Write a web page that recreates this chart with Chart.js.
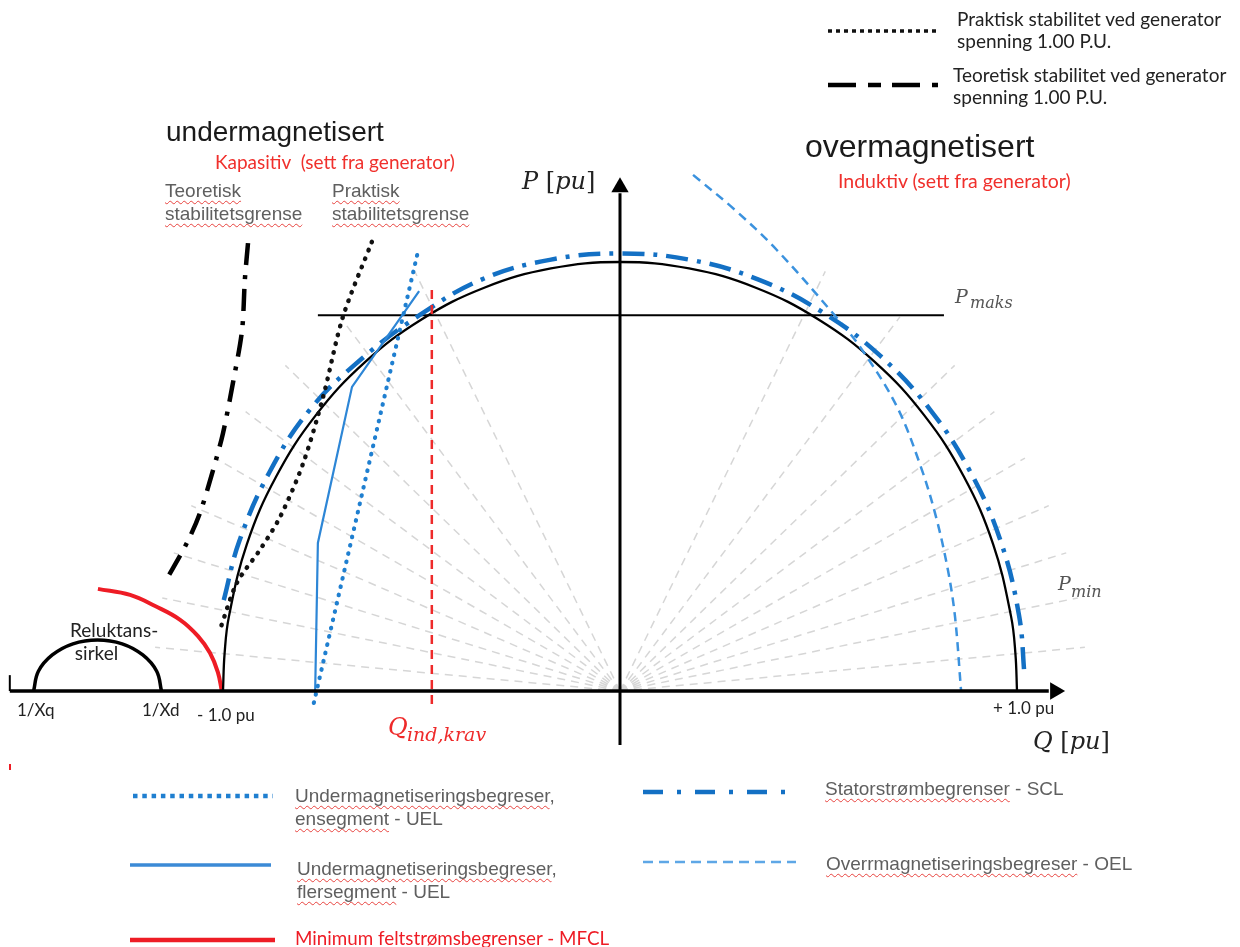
<!DOCTYPE html>
<html><head><meta charset="utf-8">
<script src="https://cdn.jsdelivr.net/npm/chart.js@4.4.1/dist/chart.umd.min.js"></script>
<style>
html,body{margin:0;padding:0;background:#fff;}
#wrap{position:relative;width:1240px;height:947px;overflow:hidden;background:#fff;}
#c{position:absolute;left:0;top:0;}
#keys{position:absolute;left:0;top:0;}
.lbl{position:absolute;white-space:nowrap;}
.sp{text-decoration-line:underline;text-decoration-style:wavy;text-decoration-color:#e8433f;text-decoration-thickness:1px;text-underline-offset:3px;text-decoration-skip-ink:none;}
</style></head>
<body>
<div id="wrap">
<canvas id="c" width="1240" height="947"></canvas>
<svg id="keys" width="1240" height="947" xmlns="http://www.w3.org/2000/svg">
  <line x1="828" y1="31" x2="938" y2="31" stroke="#111" stroke-width="3.5" stroke-dasharray="4 4"/>
  <line x1="828" y1="85" x2="938" y2="85" stroke="#000" stroke-width="4.5" stroke-dasharray="28 12 13 11"/>
  <line x1="133" y1="796" x2="273" y2="796" stroke="#1f7fd0" stroke-width="4.5" stroke-dasharray="4.5 4.8"/>
  <line x1="130" y1="865" x2="271" y2="865" stroke="#3b8ad6" stroke-width="3.5"/>
  <line x1="130" y1="940" x2="275" y2="940" stroke="#ee1c25" stroke-width="4.5"/>
  <line x1="643" y1="792" x2="790" y2="792" stroke="#1370c4" stroke-width="4.5" stroke-dasharray="20 14 4 14"/>
  <line x1="643" y1="862" x2="796" y2="862" stroke="#5ea7e6" stroke-width="2.5" stroke-dasharray="10 6"/>
  <line x1="10" y1="764" x2="10" y2="770" stroke="#ee1c25" stroke-width="2"/>
</svg>
</div>
<script>
// ---------- data (Q and P in per unit) ----------
const circleQ = [-1, -0.996, -0.985, -0.940, -0.866, -0.766, -0.643, -0.5, -0.342, -0.174, 0, 0.174, 0.342, 0.5, 0.643, 0.766, 0.866, 0.940, 0.985, 0.996, 1];
const circleP = [0, 0.087, 0.174, 0.342, 0.5, 0.643, 0.766, 0.866, 0.940, 0.985, 1, 0.985, 0.940, 0.866, 0.766, 0.643, 0.5, 0.342, 0.174, 0.087, 0];

const sclQ = [-0.998, -0.959, -0.883, -0.781, -0.650, -0.505, -0.349, -0.177, 0, 0.177, 0.349, 0.510, 0.656, 0.781, 0.883, 0.959, 1.005, 1.019];
const sclP = [0.212, 0.349, 0.510, 0.656, 0.775, 0.876, 0.959, 1.005, 1.02, 1.005, 0.959, 0.883, 0.781, 0.656, 0.510, 0.349, 0.177, 0.036];

const oelQ = [0.184, 0.290, 0.395, 0.544, 0.610, 0.698, 0.758, 0.796, 0.826, 0.844, 0.859];
const oelP = [1.203, 1.121, 1.028, 0.872, 0.795, 0.662, 0.522, 0.406, 0.282, 0.172, 0.002];

const uelSingleQ = [-0.511, -0.773];
const uelSingleP = [1.016, -0.035];

const uelMultiQ = [-0.506, -0.675, -0.761, -0.768];
const uelMultiP = [0.932, 0.709, 0.345, -0.009];

const practQ = [-0.625, -0.698, -0.748, -0.798, -0.856, -0.907, -0.965, -1.008];
const practP = [1.047, 0.872, 0.685, 0.531, 0.406, 0.329, 0.252, 0.142];

const theorQ = [-0.937, -0.945, -0.952, -0.975, -1.000, -1.025, -1.058, -1.091, -1.146];
const theorP = [1.044, 0.958, 0.841, 0.718, 0.601, 0.515, 0.415, 0.345, 0.254];

const qIndQ = [-0.474, -0.474];
const qIndP = [0.935, -0.044];

const mfclQ = [-1.315, -1.234, -1.171, -1.108, -1.063, -1.033, -1.013, -1.003];
const mfclP = [0.238, 0.224, 0.198, 0.166, 0.128, 0.089, 0.044, 0];

const relQ = [-1.155, -1.167, -1.202, -1.254, -1.316, -1.378, -1.430, -1.465, -1.477];
const relP = [0, 0.046, 0.084, 0.110, 0.119, 0.110, 0.084, 0.046, 0];

const pMaksQ = [-0.761, 0.816];
const pMaksP = [0.876, 0.876];

const qAxisQ = [-1.537, 1.08];
const qAxisP = [0, 0];
const pAxisQ = [0, 0];
const pAxisP = [-0.126, 1.16];
const tickQ = [-1.537, -1.537];
const tickP = [0, 0.037];
const arrowQ = [1.096, 0];
const arrowP = [0, 1.174];
const arrowRot = [90, 0];

const spokeRightQ = [1.171, 1.153, 1.124, 1.080, 1.020, 0.943, 0.843, 0.705, 0.517];
const spokeRightP = [0.102, 0.217, 0.322, 0.432, 0.543, 0.651, 0.759, 0.872, 0.978];
const spokeLeftQ = [-1.171, -1.153, -1.124, -1.080, -1.020, -0.943, -0.843, -0.705, -0.517];
const spokeLeftP = [0.102, 0.217, 0.322, 0.432, 0.543, 0.651, 0.759, 0.872, 0.978];

// ---------- build ----------
const pts = (qs, ps) => qs.map((q, i) => ({x: q, y: ps[i]}));
const spokePts = [];
[[spokeRightQ, spokeRightP], [spokeLeftQ, spokeLeftP]].forEach(([qs, ps]) => {
  qs.forEach((q, i) => { spokePts.push({x: 0, y: 0}, {x: q, y: ps[i]}, {x: null, y: null}); });
});

function line(data, color, width, dash, tension, cap) {
  return {data, showLine: true, borderColor: color, borderWidth: width, borderDash: dash || [],
    borderCapStyle: cap || 'butt',
    tension: tension || 0, pointRadius: 0, pointHoverRadius: 0, fill: false, spanGaps: false};
}

const datasets = [
  {data: pts(arrowQ, arrowP), showLine: false, pointStyle: 'triangle', rotation: arrowRot, pointRadius: 10,
   pointHoverRadius: 10, backgroundColor: '#000', borderColor: '#000', borderWidth: 0},
  line(pts(qAxisQ, qAxisP), '#000', 3.5),
  line(pts(pAxisQ, pAxisP), '#000', 3),
  line(pts(tickQ, tickP), '#000', 2),
  line(pts(qIndQ, qIndP), '#ee2a2a', 2.5, [9, 6]),
  line(pts(theorQ, theorP), '#000', 4.5, [22, 10, 4, 10], 0.3),
  line(pts(practQ, practP), '#111', 4.5, [0.5, 8.5], 0.3, 'round'),
  line(pts(uelSingleQ, uelSingleP), '#1f7fd0', 4.2, [0.5, 8], 0, 'round'),
  line(pts(uelMultiQ, uelMultiP), '#2d86d6', 2.2),
  line(pts(sclQ, sclP), '#1370c4', 4.5, [22, 9, 4, 9], 0.4),
  line(pts(oelQ, oelP), '#3b92de', 2.5, [9, 6], 0.35),
  line(pts(circleQ, circleP), '#000', 2.3, [], 0.4),
  line(pts(pMaksQ, pMaksP), '#000', 2),
  line(pts(mfclQ, mfclP), '#ee1c25', 4, [], 0.4),
  line(pts(relQ, relP), '#000', 3.5, [], 0.4),
  line(spokePts, '#d6d6d6', 1.5, [8, 6]),
];

new Chart(document.getElementById('c'), {
  type: 'scatter',
  data: {datasets},
  options: {
    responsive: false, animation: false, events: [],
    layout: {padding: 0, autoPadding: false},
    scales: {
      x: {type: 'linear', min: -1.5617, max: 1.5617, display: false},
      y: {type: 'linear', min: -0.5967, max: 1.6107, display: false}
    },
    plugins: {legend: {display: false}, tooltip: {enabled: false}}
  }
});

// ---------- text labels ----------
const FONTS = {
  arial: {fam: '"Liberation Sans", Arial, sans-serif', c: 0.3465},
  lato: {fam: 'Lato, "Noto Sans", sans-serif', c: 0.387},
  serif: {fam: '"DejaVu Serif", serif', c: 0.346}
};
const labels = [
  {h: 'undermagnetisert', x: 166, b: 142, f: 'arial', s: 28, col: '#1a1a1a'},
  {h: 'overmagnetisert', x: 805, b: 157, f: 'arial', s: 32, col: '#1a1a1a'},
  {h: 'Kapasitiv&nbsp;&nbsp;(sett fra generator)', x: 215, b: 169, f: 'lato', s: 19, col: '#f0302c'},
  {h: 'Induktiv (sett fra generator)', x: 838, b: 188, f: 'lato', s: 19.5, col: '#f0302c'},
  {h: '<span class="sp">Teoretisk</span><br><span class="sp">stabilitetsgrense</span>', x: 165, b: 197, lh: 23, f: 'arial', s: 19, col: '#5f5f5f'},
  {h: '<span class="sp">Praktisk</span><br><span class="sp">stabilitetsgrense</span>', x: 332, b: 197, lh: 23, f: 'arial', s: 19, col: '#5f5f5f'},
  {h: 'Praktisk stabilitet ved generator<br>spenning 1.00 P.U.', x: 957, b: 26, lh: 22, f: 'lato', s: 19, col: '#222'},
  {h: 'Teoretisk stabilitet ved generator<br>spenning 1.00 P.U.', x: 953, b: 82, lh: 22, f: 'lato', s: 19, col: '#222'},
  {h: 'Reluktans-<br>&nbsp;sirkel', x: 70, b: 637, lh: 23, f: 'lato', s: 19, col: '#222'},
  {h: '1/Xq', x: 17, b: 717, f: 'lato', s: 17, col: '#222'},
  {h: '1/Xd', x: 142, b: 717, f: 'lato', s: 17, col: '#222'},
  {h: '- 1.0 pu', x: 197, b: 722, f: 'lato', s: 17, col: '#222'},
  {h: '+ 1.0 pu', x: 993, b: 715, f: 'lato', s: 17, col: '#222'},
  {h: '<span class="sp">Undermagnetiseringsbegreser</span>,<br><span class="sp">ensegment</span> - UEL', x: 295, b: 802, lh: 23, f: 'arial', s: 19, col: '#5f5f5f'},
  {h: '<span class="sp">Undermagnetiseringsbegreser</span>,<br><span class="sp">flersegment</span> - UEL', x: 297, b: 875, lh: 23, f: 'arial', s: 19, col: '#5f5f5f'},
  {h: 'Minimum feltstrømsbegrenser - MFCL', x: 295, b: 945, f: 'lato', s: 18.8, col: '#ee1c25'},
  {h: '<span class="sp">Statorstrømbegrenser</span> - SCL', x: 825, b: 795, f: 'arial', s: 19, col: '#5f5f5f'},
  {h: '<span class="sp">Overrmagnetiseringsbegreser</span> - OEL', x: 826, b: 870, f: 'arial', s: 19, col: '#5f5f5f'},
  {h: '<i>P</i> [<i>pu</i>]', x: 522, b: 190, f: 'serif', s: 24, col: '#222'},
  {h: '<i>Q</i> [<i>pu</i>]', x: 1033, b: 750, f: 'serif', s: 24, col: '#222'},
  {h: '<i>P</i>', x: 955, b: 303, f: 'serif', s: 19, col: '#555'},
  {h: '<i>maks</i>', x: 970, b: 308, f: 'serif', s: 16, col: '#555'},
  {h: '<i>P</i>', x: 1058, b: 590, f: 'serif', s: 19, col: '#555'},
  {h: '<i>min</i>', x: 1071, b: 597, f: 'serif', s: 16, col: '#555'},
  {h: '<i>Q</i>', x: 388, b: 736, f: 'serif', s: 24, col: '#ee2a2a'},
  {h: '<i>ind,krav</i>', x: 407, b: 741, f: 'serif', s: 19, col: '#ee2a2a'}
];
const wrap = document.getElementById('wrap');
labels.forEach(l => {
  const F = FONTS[l.f];
  const lh = l.lh || Math.round(l.s * 1.2);
  const d = document.createElement('div');
  d.className = 'lbl';
  d.innerHTML = l.h;
  d.style.fontFamily = F.fam;
  d.style.fontSize = l.s + 'px';
  d.style.lineHeight = lh + 'px';
  d.style.color = l.col;
  d.style.left = l.x + 'px';
  d.style.top = (l.b - lh / 2 - F.c * l.s) + 'px';
  wrap.appendChild(d);
});
</script>
</body></html>
